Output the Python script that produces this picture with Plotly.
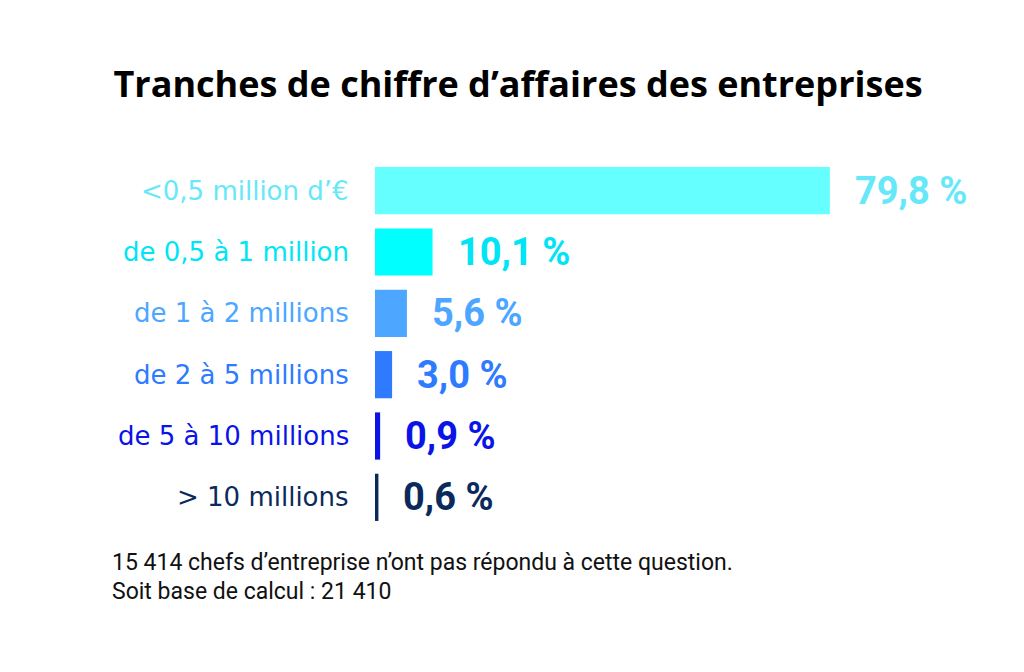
import plotly.graph_objects as go

categories = ["<0,5 million d\u2019\u20ac", "de 0,5 \u00e0 1 million", "de 1 \u00e0 2 millions",
              "de 2 \u00e0 5 millions", "de 5 \u00e0 10 millions", "> 10 millions"]
values = [79.8, 10.1, 5.6, 3.0, 0.9, 0.6]
bar_colors = ["#66FFFF", "#00FFFF", "#4DA6FF", "#2E7BFF", "#0A14E6", "#0B2A5C"]
label_colors = ["#66E8F8", "#00E5F5", "#4DA6FF", "#2E7BFF", "#0A14E6", "#0B2A5C"]
title_text = "Tranches de chiffre d\u2019affaires des entreprises"
note_lines = ["15 414 chefs d\u2019entreprise n\u2019ont pas r\u00e9pondu \u00e0 cette question.",
              "Soit base de calcul : 21 410"]

# plot area (figure coords): x 367..937, y 152..520
L, R, T, B = 367, 937, 152, 520
W, H = R - L, B - T

fig = go.Figure()
fig.add_trace(go.Bar(
    x=values, y=categories, orientation="h",
    marker=dict(color=bar_colors, line=dict(width=0)),
    width=0.77, hoverinfo="skip", showlegend=False,
))

annotations = []
for cat, val, col in zip(categories, values, label_colors):
    annotations.append(dict(
        x=0, y=cat, xref="x", yref="y", text=cat, showarrow=False,
        xanchor="right", yanchor="middle", xshift=-24,
        font=dict(family="DejaVu Sans", size=26, color=col),
    ))
    annotations.append(dict(
        x=val, y=cat, xref="x", yref="y",
        text=f"{val:.1f}".replace(".", ",") + " %", showarrow=False,
        xanchor="left", yanchor="middle", xshift=23,
        font=dict(family="Roboto", size=38, color=col, weight="bold"),
    ))

for i, line in enumerate(note_lines):
    annotations.append(dict(
        x=(102 - L) / W, y=(B - 554 - 29 * i) / H, xref="paper", yref="paper",
        text=line, showarrow=False, xanchor="left", yanchor="middle",
        font=dict(family="Roboto", size=23, color="#111111"),
    ))

fig.update_layout(
    width=1024, height=672,
    margin=dict(l=L, r=1024 - R, t=T, b=672 - B),
    paper_bgcolor="white", plot_bgcolor="white",
    title=dict(text=title_text, x=510 / 1024, xref="container", xanchor="center",
               y=1 - 76 / 672, yref="container", yanchor="middle",
               font=dict(family="Open Sans", size=36, color="#000000", weight="bold")),
    xaxis=dict(range=[0, 100], visible=False, fixedrange=True),
    yaxis=dict(categoryorder="array", categoryarray=categories, autorange="reversed",
               visible=False, fixedrange=True),
    annotations=annotations,
    bargap=0.23,
)

fig.write_html("out.html")
